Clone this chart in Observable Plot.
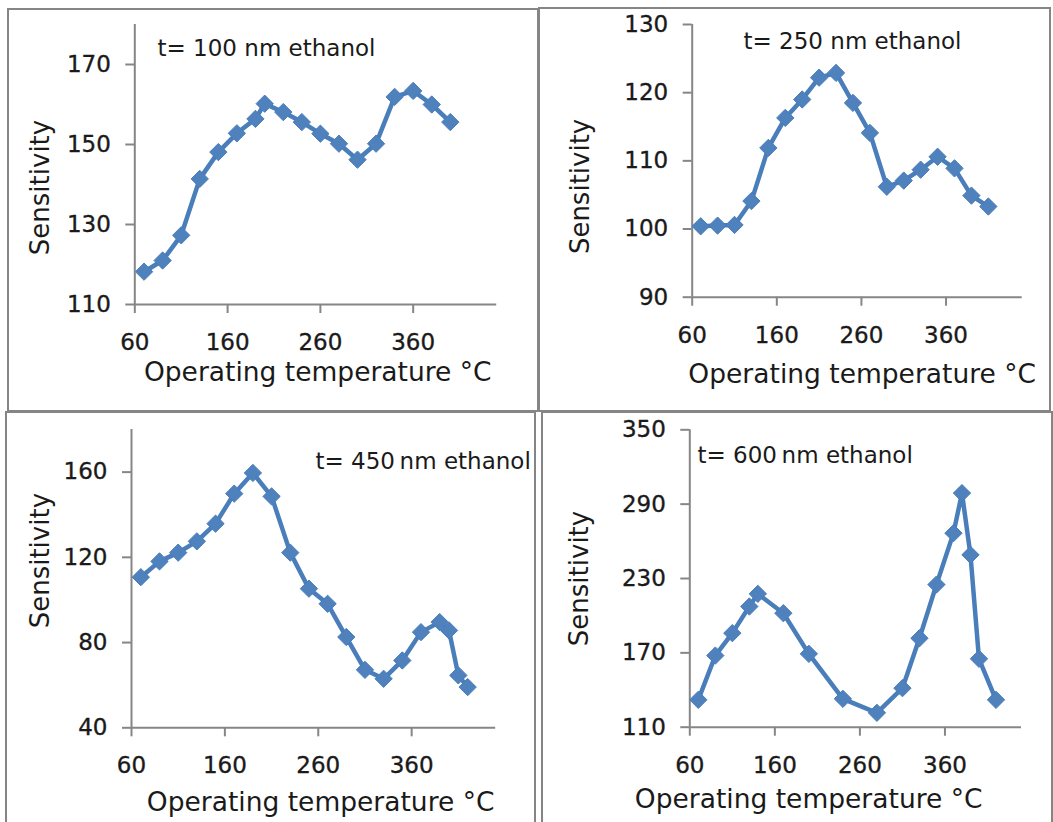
<!DOCTYPE html>
<html>
<head>
<meta charset="utf-8">
<script src="https://cdn.jsdelivr.net/npm/d3@7"></script>
<script src="https://cdn.jsdelivr.net/npm/@observablehq/plot@0.6"></script>
<style>
html, body { margin: 0; padding: 0; background: #fff; overflow: hidden; }
#root { position: relative; width: 1053px; height: 822px; overflow: hidden; background: #fff; }
.panel { position: absolute; }
.panel svg { position: absolute; left: 0; top: 0; background: transparent !important; max-width: none !important; overflow: visible; }
.frame { position: absolute; left: 0; top: 0; right: 0; bottom: 0; border: 2px solid #858585; box-sizing: border-box; pointer-events: none; }
</style>
</head>
<body>
<div id="root"></div>
<script>
// ---- data ----
const xTicks = [60, 160, 260, 360];
const xLabel = "Operating temperature °C";
const yLabel = "Sensitivity";

const t100Title = "t= 100 nm ethanol";
const t100Temp = [70, 90, 110, 130, 150, 170, 190, 200, 220, 240, 260, 280, 300, 320, 340, 360, 380, 400];
const t100Sens = [118.2, 121, 127.3, 141.4, 148.1, 152.8, 156.4, 160.2, 158.1, 155.6, 152.7, 150.2, 146.2, 150.2, 161.9, 163.4, 160.0, 155.6];
const t100Ticks = [110, 130, 150, 170];

const t250Title = "t= 250 nm ethanol";
const t250Temp = [70, 90, 110, 130, 150, 170, 190, 210, 230, 250, 270, 290, 310, 330, 350, 370, 390, 410];
const t250Sens = [100.4, 100.5, 100.6, 104.1, 111.9, 116.3, 119.0, 122.2, 122.9, 118.5, 114.1, 106.2, 107.1, 108.7, 110.6, 108.9, 104.9, 103.3];
const t250Ticks = [90, 100, 110, 120, 130];

const t450Title = "t= 450\u2009nm ethanol";
const t450Temp = [70, 90, 110, 130, 150, 170, 190, 210, 230, 250, 270, 290, 310, 330, 350, 370, 390, 400, 410, 420];
const t450Sens = [110.7, 118.1, 122.2, 127.5, 135.8, 149.9, 159.6, 148.6, 122.2, 105.3, 98.2, 82.6, 67.2, 63.0, 71.6, 84.9, 89.6, 85.7, 64.6, 59.1];
const t450Ticks = [40, 80, 120, 160];

const t600Title = "t= 600\u2009nm ethanol";
const t600Temp = [70, 90, 110, 130, 140, 170, 200, 240, 280, 310, 330, 350, 370, 380, 390, 400, 420];
const t600Sens = [132.1, 167.8, 185.9, 207.4, 217.6, 202, 169.2, 132.9, 121.6, 141.5, 181.8, 225.1, 266.6, 298.9, 249.1, 165.2, 132.1];
const t600Ticks = [110, 170, 230, 290, 350];

// ---- styling / layout ----
const FONT = "'DejaVu Sans', Verdana, sans-serif";
const LINE = "#4A7EBB";
const MARK = "#4F81BD";
const AXIS = "#868686";
const INK = "#1a1a1a";
const TS = {textStroke: INK, textStrokeWidth: 0.5};

const panels = [
  {title: t100Title, temp: t100Temp, sens: t100Sens, ticks: t100Ticks, yDomain: [110, 180],
   box: {x: 7, y: 8, w: 532, h: 404}, m: {l: 127.3, r: 42.8, t: 16, b: 108},
   tt: {dx: 22.7, dy: 31}, xl: {dx: 2, dy: 76}, yl: {dx: -94.6, dy: 23}},
  {title: t250Title, temp: t250Temp, sens: t250Sens, ticks: t250Ticks, yDomain: [90, 130],
   box: {x: 538, y: 7, w: 513, h: 405}, m: {l: 153.7, r: 29.3, t: 17, b: 115.3},
   tt: {dx: 51.3, dy: 24.3}, xl: {dx: 5, dy: 86}, yl: {dx: -112, dy: 25.6}},
  {title: t450Title, temp: t450Temp, sens: t450Sens, ticks: t450Ticks, yDomain: [40, 180],
   box: {x: 5, y: 411, w: 531, h: 416}, m: {l: 126, r: 40.8, t: 18, b: 99.7},
   tt: {dx: 184, dy: 39.3}, xl: {dx: 7, dy: 83}, yl: {dx: -91.3, dy: -18}},
  {title: t600Title, temp: t600Temp, sens: t600Sens, ticks: t600Ticks, yDomain: [110, 350],
   box: {x: 541, y: 411, w: 512, h: 416}, m: {l: 148.3, r: 32, t: 18.3, b: 100.3},
   tt: {dx: 7.7, dy: 32.7}, xl: {dx: -47, dy: 81}, yl: {dx: -110.6, dy: 0}}
];

const root = document.getElementById("root");

for (const p of panels) {
  const data = p.temp.map((t, i) => ({temp: t, sens: p.sens[i]}));
  const chart = Plot.plot({
    width: p.box.w,
    height: p.box.h,
    marginLeft: p.m.l,
    marginRight: p.m.r,
    marginTop: p.m.t,
    marginBottom: p.m.b,
    style: {fontFamily: FONT, fontSize: "23px", color: INK, overflow: "visible"},
    x: {domain: [60, 450], label: null},
    y: {domain: p.yDomain, label: null},
    marks: [
      Plot.ruleX([60], {stroke: AXIS, strokeWidth: 2}),
      Plot.ruleY([p.yDomain[0]], {stroke: AXIS, strokeWidth: 2}),
      Plot.axisX(xTicks, {tickSize: 9, tickPadding: 20, stroke: AXIS, strokeWidth: 2, fill: INK, fontSize: 23, label: null, ...TS, textStrokeWidth: 0.35}),
      Plot.axisY(p.ticks, {tickSize: 9, tickPadding: 15, stroke: AXIS, strokeWidth: 2, fill: INK, fontSize: 23, label: null, ...TS, textStrokeWidth: 0.35}),
      Plot.line(data, {x: "temp", y: "sens", stroke: LINE, strokeWidth: 4.5, strokeLinejoin: "round"}),
      Plot.dot(data, {x: "temp", y: "sens", symbol: "diamond2", r: 7.8, fill: MARK, stroke: LINE, strokeWidth: 1}),
      Plot.text([p.title], {frameAnchor: "top-left", textAnchor: "start", lineAnchor: "bottom", dx: p.tt.dx, dy: p.tt.dy, fontSize: 23, fill: INK, ...TS, textStrokeWidth: 0.35}),
      Plot.text([xLabel], {frameAnchor: "bottom", textAnchor: "middle", lineAnchor: "bottom", dx: p.xl.dx, dy: p.xl.dy, fontSize: 26.5, fill: INK, ...TS}),
      Plot.text([yLabel], {frameAnchor: "left", textAnchor: "middle", rotate: -90, dx: p.yl.dx, dy: p.yl.dy, fontSize: 26, fill: INK, ...TS})
    ]
  });
  const div = document.createElement("div");
  div.className = "panel";
  div.style.left = p.box.x + "px";
  div.style.top = p.box.y + "px";
  div.style.width = p.box.w + "px";
  div.style.height = p.box.h + "px";
  div.appendChild(chart);
  const fr = document.createElement("div");
  fr.className = "frame";
  div.appendChild(fr);
  root.appendChild(div);
}
</script>
</body>
</html>
